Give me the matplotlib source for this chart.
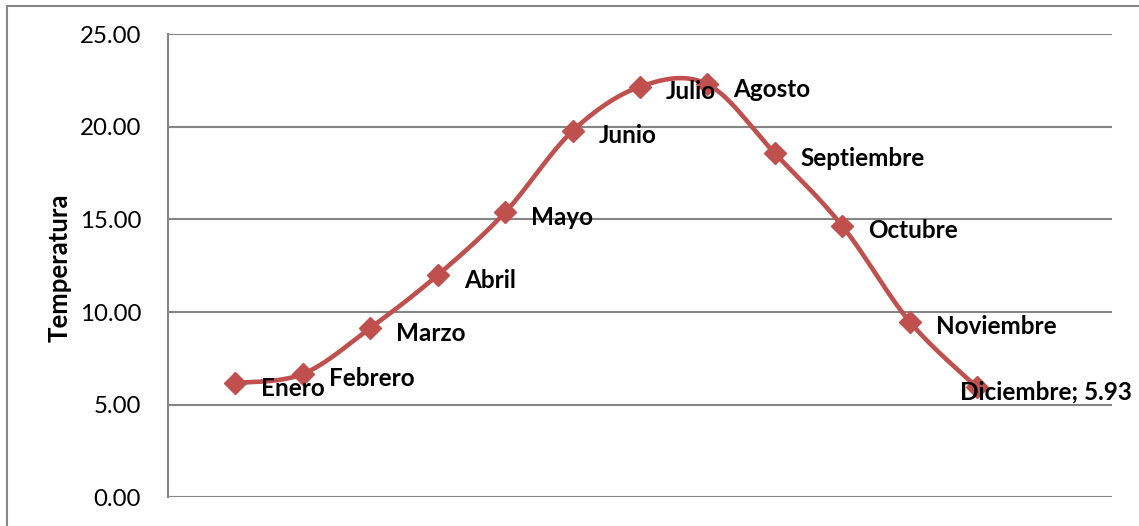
import numpy as np
import matplotlib
matplotlib.use("Agg")
import matplotlib.pyplot as plt
from matplotlib.patches import Rectangle

# Monthly mean temperature
months = ["Enero", "Febrero", "Marzo", "Abril", "Mayo", "Junio",
          "Julio", "Agosto", "Septiembre", "Octubre", "Noviembre", "Diciembre"]
temps = [6.17, 6.66, 9.14, 12.00, 15.39, 19.78,
         22.17, 22.30, 18.57, 14.65, 9.48, 5.93]
point_labels = ["Enero", "Febrero", "Marzo", "Abril", "Mayo", "Junio",
                "Julio", "Agosto", "Septiembre", "Octubre", "Noviembre",
                "Diciembre; 5.93"]
yticks = [0, 5, 10, 15, 20, 25]

FONT = "Lato"
RED = "#C0504D"
GRID = "#868686"


def smooth_curve(x, y, steps=40):
    """Bezier smoothing through every point (Catmull-Rom style)."""
    P = np.column_stack([x, y]).astype(float)
    n = len(P)
    out = [P[0]]
    for i in range(n - 1):
        p0 = P[i - 1] if i > 0 else P[i]
        p1 = P[i]
        p2 = P[i + 1]
        p3 = P[i + 2] if i + 2 < n else P[i + 1]
        c1 = p1 + (p2 - p0) / 6.0
        c2 = p2 - (p3 - p1) / 6.0
        t = np.linspace(0, 1, steps)[1:, None]
        seg = ((1 - t) ** 3) * p1 + 3 * ((1 - t) ** 2) * t * c1 \
            + 3 * (1 - t) * t ** 2 * c2 + t ** 3 * p2
        out.extend(seg)
    out = np.array(out)
    return out[:, 0], out[:, 1]


fig = plt.figure(figsize=(11.39, 5.26), dpi=100)
ax = fig.add_axes([168 / 1139, 1 - 497.3 / 526, (1112 - 168) / 1139,
                   (497.3 - 34.3) / 526])

# outer chart frame (left and top edges visible)
fig.patches.append(Rectangle((7 / 1139, -0.2), 1.2, (526 - 5.5) / 526 + 0.2,
                             transform=fig.transFigure, fill=False,
                             edgecolor=GRID, linewidth=1.5))

x = np.arange(1, len(months) + 1)
sx, sy = smooth_curve(x, temps)
ax.plot(sx, sy, color=RED, linewidth=3.3, solid_capstyle="round", zorder=3)
ax.plot(x, temps, linestyle="none", marker="D", markersize=11,
        color=RED, zorder=4)

for xi, yi, lab in zip(x, temps, point_labels):
    if lab.startswith("Diciembre"):
        off = (-17, -4)
    else:
        off = (26, -5)
    ax.annotate(lab, (xi, yi), xytext=off, textcoords="offset pixels",
                ha="left", va="center", fontsize=17.5, fontweight="bold",
                family=FONT, color="black", zorder=5)

ax.set_xlim(0, 14)
ax.set_ylim(0, 25)
ax.set_yticks(yticks)
ax.set_yticklabels([f"{v:.2f}" for v in yticks], family=FONT, fontsize=17.3)
ax.set_xticks([])
ax.tick_params(axis="y", length=0, pad=19.5)
ax.yaxis.grid(True, color=GRID, linewidth=1.5)
ax.set_axisbelow(True)
for s in ["top", "right", "bottom"]:
    ax.spines[s].set_visible(False)
ax.spines["left"].set_color(GRID)
ax.spines["left"].set_linewidth(1.5)

fig.text(60 / 1139, 1 - 267.5 / 526, "Temperatura", rotation=90,
         ha="center", va="center", family=FONT, fontsize=18.5,
         fontweight="bold")

fig.savefig("out.png", dpi=100)
